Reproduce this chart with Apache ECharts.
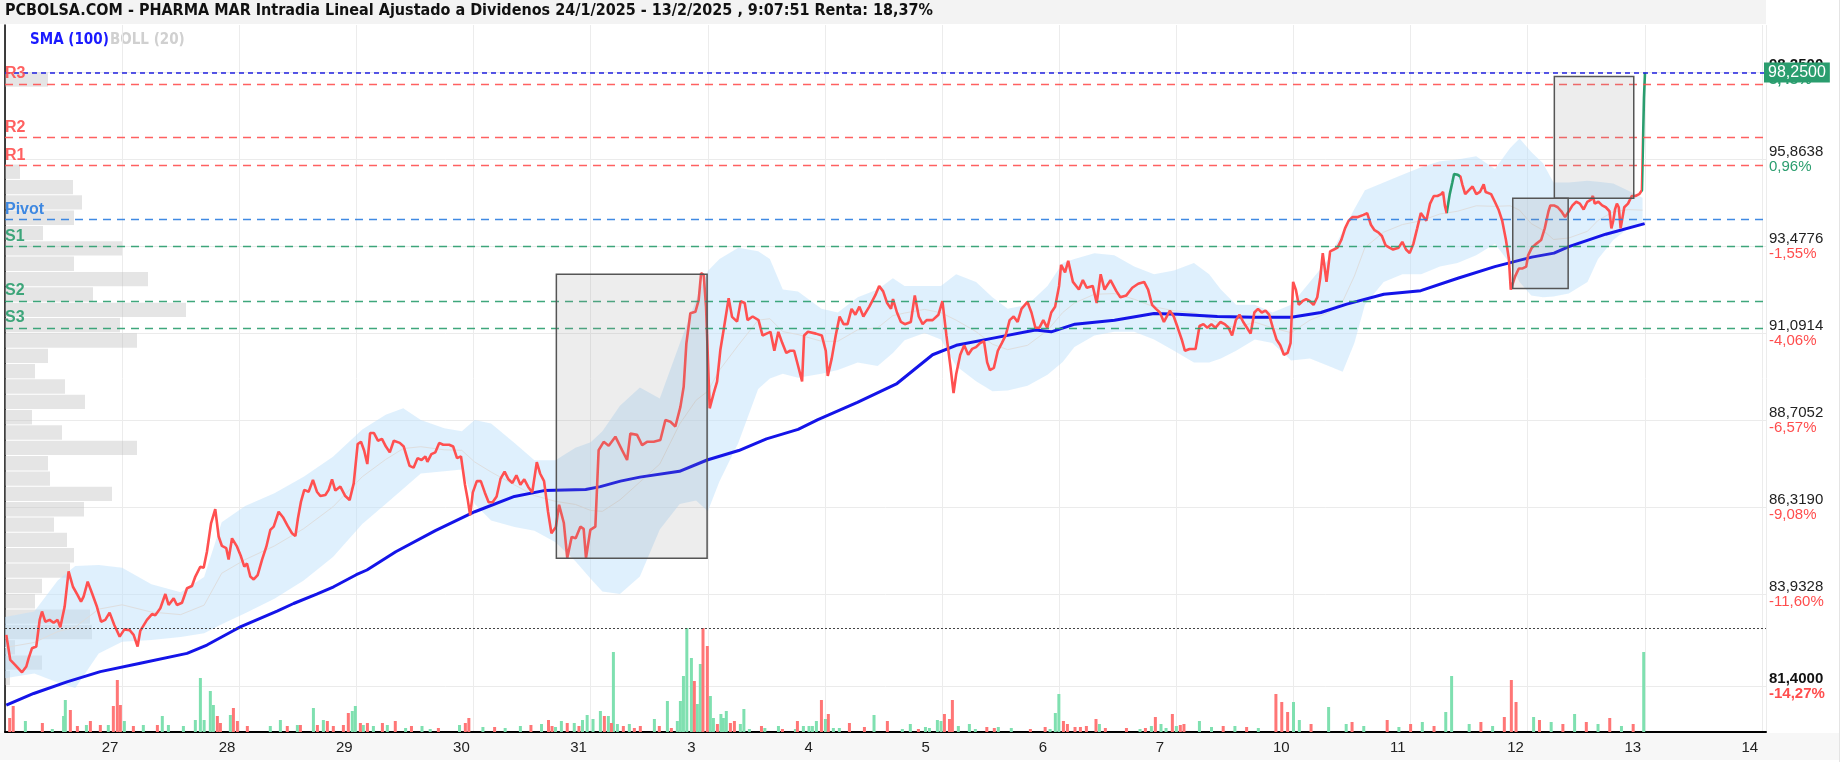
<!DOCTYPE html>
<html><head><meta charset="utf-8">
<script src="https://cdn.jsdelivr.net/npm/echarts@6/dist/echarts.min.js"></script>
<style>html,body{margin:0;padding:0;background:#fff}#c{width:1844px;height:764px}</style>
</head><body><div id="c"></div>
<script>
const titleText = 'PCBOLSA.COM - PHARMA MAR Intradia Lineal Ajustado a Dividenos 24/1/2025 - 13/2/2025 , 9:07:51 Renta: 18,37%';
const dayLabels = ['24','27','28','29','30','31','3','4','5','6','7','10','11','12','13','14'];
const yTicks = [81.4, 83.9328, 86.319, 88.7052, 91.0914, 93.4776, 95.8638, 98.25];
const yPctLabels = ['-14,27%','-11,60%','-9,08%','-6,57%','-4,06%','-1,55%','0,96%','3,48%'];
const pivotNames = ['R3','R2','R1','Pivot','S1','S2','S3'];
const pivotValues = [97.94, 96.47, 95.70, 94.22, 93.48, 91.98, 91.24];

// intraday price: [trading-day index (0 = 24/1), price]
const priceData = [
[0.011,82.81],[0.045,82.12],[0.088,81.98],[0.145,81.78],[0.182,81.94],[0.202,82.17],[0.230,82.44],[0.267,82.49],[0.296,83.22],[0.316,83.45],[0.344,83.17],[0.381,83.22],[0.415,83.14],[0.449,83.22],[0.472,83.02],[0.509,83.58],[0.543,84.55],[0.580,84.13],[0.620,83.90],[0.649,83.72],[0.671,83.86],[0.706,84.27],[0.743,83.95],[0.785,83.58],[0.820,83.17],[0.856,83.22],[0.893,83.42],[0.933,83.08],[0.979,82.76],[1.019,82.96],[1.064,82.94],[1.098,82.81],[1.132,82.49],[1.155,82.92],[1.212,83.22],[1.255,83.38],[1.283,83.35],[1.326,83.54],[1.369,83.93],[1.397,83.63],[1.440,83.81],[1.468,83.63],[1.511,83.69],[1.554,84.09],[1.596,84.15],[1.625,84.41],[1.667,84.68],[1.696,84.65],[1.724,85.09],[1.759,85.87],[1.795,86.26],[1.824,85.51],[1.852,85.25],[1.889,85.19],[1.909,84.88],[1.938,85.46],[1.981,85.23],[2.015,84.96],[2.043,84.68],[2.066,84.77],[2.094,84.41],[2.123,84.33],[2.157,84.45],[2.194,84.87],[2.231,85.23],[2.265,85.69],[2.294,85.78],[2.336,86.19],[2.373,86.04],[2.413,85.80],[2.450,85.60],[2.479,85.52],[2.501,86.01],[2.527,86.47],[2.555,86.79],[2.592,86.74],[2.629,87.06],[2.663,86.74],[2.692,86.62],[2.735,86.65],[2.763,86.79],[2.792,87.08],[2.820,86.77],[2.863,86.88],[2.905,86.62],[2.942,86.51],[2.977,86.97],[3.011,88.05],[3.039,88.11],[3.066,87.87],[3.093,87.50],
[3.117,88.35],[3.150,88.35],[3.184,88.14],[3.218,88.19],[3.252,87.98],[3.285,87.82],[3.319,88.14],[3.370,88.08],[3.404,87.98],[3.454,87.45],[3.488,87.40],[3.522,87.66],[3.556,87.61],[3.589,87.71],[3.606,87.56],[3.640,87.77],[3.674,87.82],[3.707,88.08],[3.741,88.03],[3.792,88.03],[3.826,87.98],[3.859,87.66],[3.893,87.71],[3.927,86.93],[3.951,86.51],[3.971,86.09],[3.994,86.72],[4.028,87.03],[4.062,87.03],[4.096,86.72],[4.129,86.45],[4.163,86.45],[4.197,86.61],[4.231,87.10],[4.265,87.29],[4.298,87.08],[4.332,86.98],[4.366,87.19],[4.400,86.93],[4.433,87.08],[4.467,86.87],[4.501,86.72],[4.540,87.55],[4.568,87.24],[4.602,87.03],[4.636,86.19],[4.665,85.60],[4.703,85.77],[4.730,86.38],[4.771,85.88],[4.800,84.92],[4.838,85.50],[4.872,85.46],[4.912,85.78],[4.940,85.72],[4.960,84.92],[4.997,85.69],[5.040,85.78],[5.068,87.88],[5.111,88.11],[5.154,88.00],[5.211,88.25],[5.268,87.88],[5.311,87.61],[5.339,88.34],[5.396,88.30],[5.439,88.02],[5.481,88.11],[5.538,88.11],[5.595,88.16],[5.638,88.71],[5.681,88.66],[5.723,88.53],[5.766,89.07],[5.794,89.62],[5.817,90.81],[5.851,91.64],[5.894,91.68],[5.922,92.00],[5.943,92.74],[5.965,92.69],[5.985,91.82],[6.016,89.03],[6.050,89.44],[6.079,89.76],[6.107,90.63],[6.135,91.18],[6.178,92.05],[6.207,91.54],[6.250,91.41],[6.281,91.97],[6.315,91.92],[6.339,91.45],
[6.383,91.55],[6.433,91.45],[6.467,91.03],[6.501,91.08],[6.535,91.13],[6.568,90.61],[6.602,91.13],[6.636,90.82],[6.670,90.55],[6.703,90.61],[6.737,90.61],[6.771,90.19],[6.805,89.77],[6.822,91.03],[6.855,91.13],[6.923,91.08],[6.973,91.03],[7.007,90.61],[7.024,89.92],[7.058,90.40],[7.092,91.03],[7.125,91.55],[7.159,91.34],[7.193,91.34],[7.227,91.76],[7.260,91.60],[7.294,91.82],[7.328,91.55],[7.379,91.82],[7.429,92.13],[7.463,92.39],[7.497,92.24],[7.531,91.92],[7.564,91.76],[7.581,92.03],[7.615,91.66],[7.649,91.40],[7.682,91.34],[7.733,91.40],[7.767,92.13],[7.801,91.55],[7.834,91.34],[7.868,91.45],[7.919,91.45],[7.969,91.60],[8.003,91.97],[8.037,91.03],[8.071,90.19],[8.098,89.45],[8.121,89.98],[8.155,90.50],[8.189,90.76],[8.223,90.50],[8.256,90.66],[8.290,90.71],[8.324,90.82],[8.358,90.87],[8.385,90.29],[8.408,90.08],[8.442,90.14],[8.476,90.61],[8.510,90.82],[8.543,91.03],[8.577,91.45],[8.611,91.55],[8.645,91.40],[8.678,91.76],[8.729,91.95],[8.763,91.66],[8.797,91.24],[8.830,91.24],[8.864,91.45],[8.898,91.24],[8.932,91.66],[8.965,91.82],[8.999,92.39],[9.016,92.97],[9.050,92.76],[9.077,93.08],[9.117,92.50],[9.168,92.29],[9.202,92.55],[9.235,92.34],[9.286,92.39],[9.320,91.92],[9.354,92.71],[9.387,92.29],[9.438,92.55],[9.489,92.24],[9.522,92.08],[9.573,92.13],[9.624,92.34],[9.674,92.45],[9.725,92.50],[9.759,92.29],[9.793,91.87],[9.826,91.76],[9.860,91.66],[9.894,91.40],[9.945,91.71],[9.978,91.55],[10.012,91.24],[10.046,90.92],[10.073,90.61],[10.113,90.66],[10.164,90.66],[10.198,91.29],[10.231,91.34],[10.265,91.24],[10.299,91.34],[10.333,91.24],[10.377,91.40],
[10.413,91.34],[10.445,91.24],[10.476,91.03],[10.508,91.45],[10.539,91.60],[10.571,91.40],[10.603,91.24],[10.634,91.08],[10.666,91.66],[10.697,91.76],[10.729,91.66],[10.761,91.71],[10.792,91.60],[10.824,91.24],[10.855,90.92],[10.887,90.76],[10.918,90.50],[10.950,90.55],[10.975,90.82],[10.997,92.50],[11.020,92.29],[11.045,91.87],[11.076,91.97],[11.108,92.03],[11.140,91.97],[11.171,91.87],[11.203,92.08],[11.228,92.60],[11.250,93.29],[11.282,92.50],[11.313,93.34],[11.345,93.39],[11.376,93.44],[11.408,93.65],[11.440,93.97],[11.471,94.18],[11.503,94.28],[11.550,94.28],[11.598,94.34],[11.629,94.39],[11.661,94.07],[11.692,93.92],[11.724,93.86],[11.755,93.76],[11.787,93.50],[11.819,93.44],[11.850,93.39],[11.898,93.44],[11.929,93.60],[11.961,93.39],[11.992,93.29],[12.024,93.55],[12.056,93.97],[12.087,94.39],[12.103,94.44],[12.134,94.18],[12.166,94.65],[12.198,94.86],[12.229,94.86],[12.261,94.91],[12.277,94.97],[12.292,94.60],[12.308,94.39],[12.334,94.91],[12.356,95.23],[12.371,95.46],[12.403,95.44],[12.425,95.39],[12.441,95.18],[12.466,94.91],[12.498,95.02],[12.529,95.12],[12.561,94.91],[12.592,94.97],[12.624,95.18],[12.640,94.97],[12.656,94.97],[12.687,94.91],[12.719,94.70],[12.750,94.49],[12.782,94.18],[12.814,93.65],[12.839,93.13],[12.855,92.29],[12.870,92.29],[12.893,92.66],[12.924,92.87],[12.956,92.87],[12.987,92.92],[13.003,93.23],[13.035,93.44],[13.066,93.53],[13.114,93.65],[13.145,93.97],[13.177,94.44],[13.193,94.60],[13.224,94.60],[13.256,94.55],[13.287,94.44],[13.319,94.28],[13.351,94.44],[13.382,94.60],[13.414,94.70],[13.445,94.65],[13.477,94.49],[13.509,94.70],[13.540,94.76],[13.556,94.86],[13.572,94.65],[13.603,94.70],[13.635,94.60],[13.666,94.55],[13.698,94.44],[13.714,93.97],[13.730,94.18],[13.745,94.49],[13.761,94.65],[13.777,94.55],[13.793,93.97],[13.824,94.55],[13.856,94.65],[13.888,94.86],[13.919,94.86],[13.951,94.91],[13.975,95.02],[13.992,97.54],[14.001,98.25]
];
const greenSegments = [[12.308, 12.425], [13.975, 14.1]];

const smaData = [
[0.011,80.88],[0.245,81.20],[0.529,81.52],[0.814,81.80],[1.155,82.03],[1.554,82.30],[1.724,82.53],[1.952,82.93],[2.009,83.03],[2.323,83.46],[2.464,83.67],[2.661,83.93],[2.806,84.13],[2.999,84.46],[3.090,84.59],[3.336,85.09],[3.674,85.67],[4.011,86.19],[4.349,86.61],[4.602,86.77],[4.957,86.80],[5.083,86.88],[5.254,87.03],[5.420,87.14],[5.758,87.30],[5.994,87.61],[6.264,87.87],[6.501,88.19],[6.771,88.45],[6.940,88.72],[7.277,89.19],[7.615,89.71],[7.919,90.50],[8.121,90.76],[8.459,90.97],[8.797,91.18],[8.932,91.13],[9.134,91.34],[9.472,91.45],[9.809,91.63],[10.012,91.61],[10.350,91.55],[10.666,91.53],[10.982,91.53],[11.234,91.66],[11.455,91.89],[11.771,92.16],[12.087,92.26],[12.403,92.60],[12.719,92.92],[13.035,93.18],[13.224,93.29],[13.351,93.47],[13.666,93.81],[13.998,94.10]
];

const bollX =     [0.00,0.25,0.45,0.60,0.80,1.00,1.25,1.50,1.70,1.85,2.05,2.30,2.55,2.80,3.05,3.25,3.40,3.55,3.75,3.90,4.01,4.15,4.35,4.52,4.70,4.87,5.00,5.10,5.25,5.42,5.59,5.76,5.90,6.00,6.10,6.26,6.43,6.53,6.64,6.77,6.97,7.11,7.28,7.45,7.58,7.68,7.85,7.99,8.12,8.29,8.43,8.56,8.73,8.90,9.03,9.13,9.30,9.47,9.64,9.81,9.98,10.15,10.28,10.38,10.51,10.67,10.82,10.98,11.14,11.30,11.42,11.52,11.61,11.77,11.93,12.09,12.25,12.40,12.56,12.72,12.85,12.93,13.03,13.13,13.22,13.35,13.51,13.60,13.73,13.86,13.98];
const bollUpper = [83.30,83.45,84.30,84.70,84.73,84.65,84.20,83.98,84.40,85.90,86.35,86.70,87.15,87.70,88.45,88.85,89.03,88.71,88.48,88.40,88.71,88.61,88.08,87.60,87.60,87.95,88.10,88.40,89.10,89.60,89.30,90.80,92.00,92.80,93.13,93.44,93.34,93.13,92.29,92.24,91.76,91.66,92.08,92.29,92.60,92.39,92.39,92.39,92.71,92.50,92.08,91.76,91.87,92.39,93.02,93.13,93.29,93.23,92.92,92.71,92.81,93.02,92.71,92.29,91.87,91.87,91.66,91.87,92.50,93.13,93.90,94.50,95.02,95.23,95.44,95.65,95.81,95.86,95.95,95.60,96.18,96.44,96.07,95.76,95.23,95.23,95.28,95.25,95.20,95.00,94.81];
const bollLower = [81.62,81.75,81.50,81.35,82.30,82.62,82.67,82.75,82.85,83.10,83.40,83.80,84.30,84.95,85.85,86.40,86.82,87.24,87.30,87.35,86.40,85.95,85.77,85.67,85.35,84.83,84.35,84.00,83.93,84.41,85.70,86.40,86.50,86.20,87.03,88.08,89.56,89.85,89.98,89.87,89.98,90.08,90.29,90.19,90.55,90.90,91.10,90.92,90.19,89.77,89.50,89.52,89.65,89.95,90.30,90.71,91.03,91.13,91.13,90.92,90.61,90.29,90.29,90.40,90.61,90.92,90.82,90.34,90.40,90.19,90.03,90.82,91.87,92.50,92.71,92.71,92.92,93.02,93.23,93.55,93.00,92.50,92.13,92.08,92.10,92.18,92.50,93.13,93.65,93.97,94.13];

// volume bars [day index, volume]; up = green, down = red
const volUp = [
[0.174,11],[0.404,3],[0.50,16],[0.515,32],[0.695,7],[0.882,7],[1.019,11],[1.181,7],[1.343,16],[1.395,7],[1.523,6],[1.625,12],[1.668,54],[1.70,12],[1.753,41],[1.779,27],[1.924,17],[2.265,6],[2.351,12],[2.496,7],[2.633,24],[2.718,12],[2.965,21],[2.991,26],[3.059,7],[3.145,6],[3.264,7],
[3.42,4],[3.56,6],[3.63,3],[3.88,7],[4.08,5],[4.27,4],[4.40,6],[4.58,8],[4.70,5],[4.75,11],[4.86,9],[4.93,12],[4.97,17],[5.02,13],
[5.083,21],[5.151,16],[5.194,80],[5.228,8],[5.330,8],[5.544,13],[5.655,31],[5.740,11],[5.766,31],[5.792,56],[5.821,104],[5.860,74],[5.911,28],[5.936,68],[6.022,36],[6.048,14],[6.112,18],[6.133,14],[6.158,21],[6.278,8],[6.308,23],[6.355,3],[6.487,4],[6.603,6],[6.748,3],[6.816,6],[6.864,6],[6.893,6],[6.927,11],[7.004,13],[7.072,4],[7.123,4],[7.419,17],[7.661,3],[7.729,8],[7.858,5],[7.892,4],[7.960,12],[7.991,11],[8.139,6],[8.233,8],[8.284,3],[8.480,5],[8.591,4],[8.922,3],[8.967,19],[8.997,38],[9.343,8],[9.690,3],[9.787,6],[9.869,8],[9.912,4],[10.000,6],[10.197,11],
[10.3,5],[10.5,6],[10.7,4],[11.0,30],[11.05,12],[11.3,25],[11.45,8],[11.6,6],[11.9,5],[12.1,10],[12.3,20],[12.35,56],[12.5,8],[12.7,6],[13.05,15],[13.2,10],[13.4,18],[13.6,8],[13.8,6],[13.99,80]
];
const volDown = [
[0.04,14],[0.07,26],[0.319,9],[0.558,22],[0.618,6],[0.729,11],[0.814,7],[0.925,26],[0.959,52],[0.985,27],[1.096,6],[1.301,7],[1.813,16],[1.839,9],[1.950,24],[1.984,11],[2.069,6],[2.410,6],[2.522,7],[2.667,7],[2.752,11],[2.803,6],[2.889,7],[2.931,19],[3.034,9],[3.094,9],[3.222,9],[3.332,11],
[3.47,6],[3.70,4],[3.93,9],[3.96,14],[4.18,5],[4.49,7],[4.64,12],[4.67,6],[4.80,9],[4.90,6],
[5.117,16],[5.177,9],[5.279,6],[5.373,4],[5.424,6],[5.586,6],[5.689,4],[5.885,51],[5.959,104],[5.996,86],[6.082,8],[6.193,9],[6.227,11],[6.458,6],[6.637,3],[6.765,11],[6.970,32],[7.029,18],[7.209,9],[7.337,5],[7.533,11],[7.798,3],[8.020,18],[8.063,13],[8.088,32],[8.382,5],[8.446,4],[8.754,3],[8.880,5],[9.036,11],[9.070,8],[9.135,5],[9.181,5],[9.232,6],[9.314,13],[9.394,4],[9.574,4],[9.736,4],[9.821,15],[9.966,18],[10.034,7],[10.065,8],
[10.4,6],[10.6,5],[10.85,38],[10.9,30],[10.95,20],[11.15,8],[11.5,10],[11.8,12],[12.0,8],[12.2,6],[12.6,10],[12.8,15],[12.86,52],[12.9,30],[13.1,12],[13.3,8],[13.5,10],[13.7,14],[13.9,8]
];

// volume-at-price profile, 40 bins from 98.25 down to 81.40
const profileVol = [43,0,0,0,0,0,15,68,77,69,38,117,69,143,88,181,115,132,43,30,60,80,27,57,132,43,45,107,79,49,62,69,65,37,30,85,87,10,37,5];

// gap boxes: [day from, price top, day to, price bottom]
const boxes = [[4.707,92.71,5.994,84.91],[12.872,94.80,13.345,92.32],[13.227,98.14,13.905,94.80]];

const RED = '#ff5050', GREEN = '#2a9d6e';
const lastPrice = priceData[priceData.length - 1][1];
const volMax = Math.max(...volUp.map(d => d[1]), ...volDown.map(d => d[1]));
const pTop = yTicks[yTicks.length - 1], pBottom = yTicks[0];
const binStep = (pTop - pBottom) / profileVol.length;
const fmt = v => v.toFixed(4).replace('.', ',');
const NARROW = '"Liberation Sans Narrow", "DejaVu Sans Condensed", "Arial Narrow", sans-serif';

const chart = echarts.init(document.getElementById('c'), null, {renderer: 'canvas'});
const option = {
  animation: false,
  backgroundColor: '#fff',
  grid: {left: 5, right: 78, top: 25, bottom: 32, containLabel: false, outerBoundsMode: 'none'},
  xAxis: [{
    type: 'value', min: 0, max: 15.034, interval: 1,
    axisLine: {show: true, onZero: false, lineStyle: {color: '#000', width: 2}},
    axisTick: {show: false},
    splitLine: {show: true, lineStyle: {color: '#ececec', width: 1}},
    axisLabel: {
      customValues: dayLabels.slice(1).map((d, i) => i + 1 - 0.175),
      formatter: v => dayLabels[Math.round(v + 0.175)],
      align: 'left', fontSize: 15, color: '#222', margin: 8, fontFamily: 'Liberation Sans, Arial, sans-serif'
    }
  }, {
    type: 'value', min: 0, max: 1761, show: false
  }],
  yAxis: [{
    type: 'value', position: 'right', min: 80.142, max: 99.554,
    axisLine: {show: true, lineStyle: {color: '#000', width: 1.5}},
    axisTick: {show: false, customValues: yTicks},
    splitLine: {show: true, lineStyle: {color: '#ebebeb', width: 1}},
    axisLabel: {
      customValues: yTicks, margin: 3, align: 'left',
      formatter: v => {
        const i = yTicks.findIndex(t => Math.abs(t - v) < 1e-6);
        const pct = yPctLabels[i];
        const bold = (i === 0 || i === yTicks.length - 1);
        const pStyle = pct.charAt(0) === '-' ? (bold ? 'dnb' : 'dn') : (bold ? 'upb' : 'up');
        return '{' + (bold ? 'vb' : 'v') + '|' + fmt(v) + '}\n{' + pStyle + '|' + pct + '}';
      },
      rich: {
        v: {color: '#222', fontSize: 15, lineHeight: 15, fontFamily: 'Liberation Sans, Arial'},
        vb: {color: '#111', fontSize: 15, lineHeight: 15, fontWeight: 'bold', fontFamily: 'Liberation Sans, Arial'},
        up: {color: GREEN, fontSize: 15, lineHeight: 15, fontFamily: 'Liberation Sans, Arial'},
        upb: {color: GREEN, fontSize: 15, lineHeight: 15, fontWeight: 'bold', fontFamily: 'Liberation Sans, Arial'},
        dn: {color: '#ff4d4d', fontSize: 15, lineHeight: 15, fontFamily: 'Liberation Sans, Arial'},
        dnb: {color: '#ff4d4d', fontSize: 15, lineHeight: 15, fontWeight: 'bold', fontFamily: 'Liberation Sans, Arial'}
      }
    }
  }, {
    type: 'value', min: 0, max: volMax * 6.8, show: false
  }],
  visualMap: [{
    type: 'piecewise', show: false, dimension: 0, seriesIndex: 6,
    pieces: greenSegments.map(s => ({gt: s[0], lte: s[1], color: GREEN})),
    outOfRange: {color: RED}
  }],
  graphic: [
    {type: 'rect', left: 0, top: 0, shape: {width: 1766, height: 24}, style: {fill: '#f3f3f3'}, z: -1},
    {type: 'rect', left: 0, top: 733, shape: {width: 1840, height: 27}, style: {fill: '#f7f7f7'}, z: -1},
    {type: 'rect', left: 1839, top: 0, shape: {width: 1, height: 762}, style: {fill: '#e4e4e4'}, z: -1},
    {type: 'text', left: 5, top: 3, style: {text: titleText, fill: '#111', font: 'bold 16px ' + NARROW}},
    {type: 'text', left: 30, top: 33, style: {text: 'SMA (100)', fill: '#1a1aff', font: 'bold 15px ' + NARROW}},
    {type: 'text', left: 110, top: 33, style: {text: 'BOLL (20)', fill: '#d0d0d0', font: 'bold 15px ' + NARROW}}
  ],
  series: [
    { // 0 profile
      type: 'custom', xAxisIndex: 1, yAxisIndex: 0, z: 1, silent: true,
      data: profileVol.map((v, i) => [v, pTop - i * binStep]),
      renderItem: (params, api) => {
        const top = api.value(1);
        const p1 = api.coord([0, top]);
        const p2 = api.coord([api.value(0), top - binStep]);
        return {type: 'rect', shape: {x: p1[0], y: p1[1], width: p2[0] - p1[0], height: p2[1] - p1[1] - 1},
          style: {fill: 'rgba(190,190,190,0.4)'}};
      }
    },
    { // 1 bollinger band
      type: 'custom', z: 2, silent: true,
      data: bollX.map((x, i) => [x, bollUpper[i], bollLower[i]]),
      encode: {x: 0, y: [1, 2]},
      renderItem: (params, api) => {
        if (params.dataIndex !== 0) return null;
        const pts = [];
        for (let i = 0; i < bollX.length; i++) pts.push(api.coord([bollX[i], bollUpper[i]]));
        for (let i = bollX.length - 1; i >= 0; i--) pts.push(api.coord([bollX[i], bollLower[i]]));
        return {type: 'polygon', shape: {points: pts}, style: {fill: 'rgba(188,224,250,0.48)'}};
      }
    },
    { // 2 boll mid
      type: 'line', symbol: 'none', z: 2, silent: true,
      data: bollX.map((x, i) => [x, (bollUpper[i] + bollLower[i]) / 2]),
      lineStyle: {color: '#dedede', width: 1}
    },
    { // 3 volume up
      type: 'bar', xAxisIndex: 0, yAxisIndex: 1, barWidth: 3, barGap: '-100%', z: 2, silent: true,
      data: volUp, itemStyle: {color: '#7fe0b0'},
      markLine: {symbol: 'none', silent: true, label: {show: false},
        lineStyle: {color: '#444', type: [2, 2], width: 1}, data: [{yAxis: volMax}]}
    },
    { // 4 volume down
      type: 'bar', xAxisIndex: 0, yAxisIndex: 1, barWidth: 3, barGap: '-100%', z: 2, silent: true,
      data: volDown, itemStyle: {color: '#ff7676'}
    },
    { // 5 SMA
      type: 'line', symbol: 'none', z: 3, silent: true, data: smaData,
      lineStyle: {color: '#1414e8', width: 3}
    },
    { // 6 price
      type: 'line', symbol: 'none', z: 4, silent: true, data: priceData,
      lineStyle: {width: 2.6},
      markLine: {
        symbol: 'none', silent: true,
        label: {show: true, position: 'insideStartTop', fontWeight: 'bold', fontSize: 16, distance: [0, 2],
          fontFamily: 'Liberation Sans, Arial, sans-serif'},
        data: pivotNames.map((n, i) => {
          const c = n.charAt(0) === 'R' ? RED : (n === 'Pivot' ? '#2b7de0' : GREEN);
          return {yAxis: pivotValues[i],
            lineStyle: {color: c, type: [8, 6], width: 1.3, opacity: 0.9},
            label: {formatter: n, color: c, fontWeight: 'bold', fontSize: 16}};
        }).concat([{yAxis: lastPrice,
          lineStyle: {color: '#2020e0', type: [5, 4], width: 1.5},
          label: {position: 'end', formatter: fmt(lastPrice), color: '#fff', backgroundColor: GREEN, fontWeight: 'normal',
            padding: [2, 4, 2, 4], fontSize: 16, distance: -2}}])
      }
    },
    { // 7 boxes
      type: 'custom', z: 6, silent: true, data: boxes,
      encode: {x: [0, 2], y: [1, 3]},
      renderItem: (params, api) => {
        const p1 = api.coord([api.value(0), api.value(1)]);
        const p2 = api.coord([api.value(2), api.value(3)]);
        return {type: 'rect', shape: {x: p1[0], y: p1[1], width: p2[0] - p1[0], height: p2[1] - p1[1]},
          style: {fill: 'rgba(150,150,150,0.17)', stroke: '#555', lineWidth: 1.5}};
      }
    }
  ]
};
chart.setOption(option);
</script></body></html>
